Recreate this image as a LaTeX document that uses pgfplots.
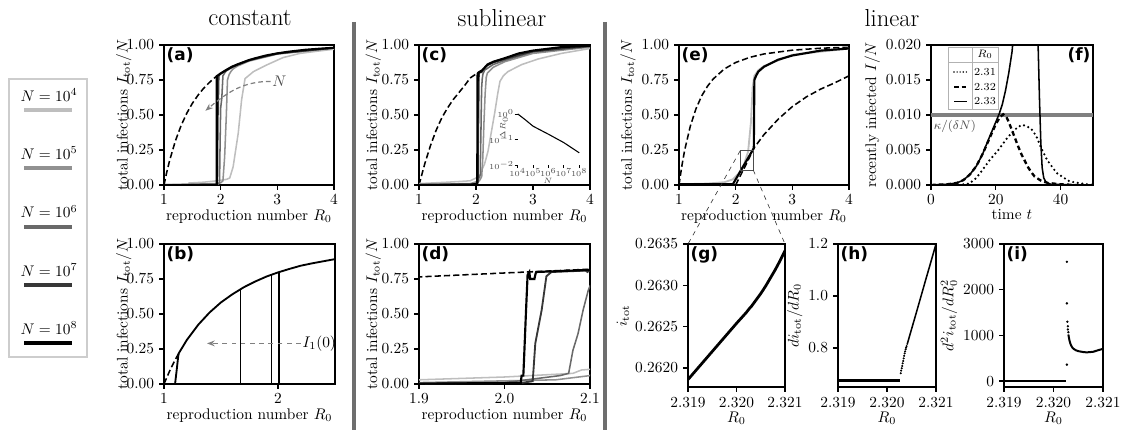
\documentclass[border=0pt]{standalone}
\usepackage{fontspec}
\usepackage{pgfplots}
\usepackage{pgfplotstable}
\pgfplotsset{compat=1.18}
\usetikzlibrary{arrows.meta}
\newfontfamily\plab{DejaVu Sans}

\definecolor{nfour}{RGB}{190,190,190}
\definecolor{nfive}{RGB}{145,145,145}
\definecolor{nsix}{RGB}{105,105,105}
\definecolor{nseven}{RGB}{55,55,55}
\definecolor{sepgray}{RGB}{110,110,110}
\definecolor{boxgray}{RGB}{205,205,205}

% sublinear runs, shared by (c) and (d)
\pgfplotstableread{
x y
1.0 0.01
1.5 0.02
1.9 0.03
2.0 0.05
2.08 0.076
2.09 0.10
2.1 0.105
2.15 0.15
2.21 0.24
2.27 0.38
2.33 0.52
2.38 0.65
2.42 0.74
2.48 0.78
2.56 0.81
2.8 0.86
3.09 0.90
3.5 0.94
4.0 0.975
}\cfour
\pgfplotstableread{
x y
1.0 0.005
1.9 0.01
2.06 0.03
2.1 0.06
2.12 0.2
2.14 0.45
2.16 0.65
2.18 0.77
2.2 0.8
2.3 0.84
2.5 0.88
3.0 0.94
4.0 0.985
}\cfive
\pgfplotstableread{
x y
1.0 0.002
1.9 0.005
2.0 0.01
2.065 0.06
2.075 0.076
2.08 0.24
2.086 0.36
2.092 0.53
2.098 0.67
2.1 0.70
2.11 0.76
2.12 0.79
2.15 0.82
2.3 0.86
2.5 0.89
3.0 0.95
4.0 0.99
}\csix
\pgfplotstableread{
x y
1.0 0.0
1.9 0.003
2.02 0.008
2.033 0.02
2.036 0.29
2.0435 0.53
2.049 0.77
2.055 0.80
2.095 0.81
2.097 0.80
2.1 0.815
2.2 0.855
2.3 0.875
2.5 0.90
3.0 0.955
4.0 0.993
}\cseven
\pgfplotstableread{
x y
1.0 0.0
1.9 0.002
2.019 0.008
2.02 0.06
2.022 0.06
2.023 0.2
2.025 0.5
2.027 0.78
2.029 0.80
2.030 0.75
2.035 0.75
2.036 0.78
2.037 0.80
2.1 0.815
2.2 0.86
2.3 0.88
2.5 0.905
2.75 0.94
3.0 0.96
3.5 0.985
4.0 0.995
}\ceight
\pgfplotstableread{
x y
1.0 0.0
1.1 0.15
1.2 0.28
1.3 0.39
1.4 0.48
1.5 0.55
1.6 0.61
1.7 0.66
1.8 0.71
1.9 0.765
2.0 0.793
2.1 0.82
}\cdash

\pgfplotsset{
  pos/.style 2 args={at={({#1*0.65pt},{-#2*0.65pt})}},
  panel/.style={
    scale only axis, anchor=south west,
    axis line style={line width=1.3pt},
    tick align=outside, tick pos=left,
    major tick length=3pt,
    tick style={black, line width=0.8pt},
    tick label style={font=\fontsize{10}{12}\selectfont},
    label style={font=\fontsize{10}{12}\selectfont},
    xlabel style={yshift=4pt},
    ylabel style={yshift=-3pt},
    scaled ticks=false,
    enlargelimits=false,
  },
  itot/.style={panel, xmin=1, xmax=4, ymin=0, ymax=1,
    xtick={1,2,3,4}, ytick={0,0.25,0.5,0.75,1},
    yticklabel style={/pgf/number format/.cd, fixed, fixed zerofill, precision=2},
    xlabel={reproduction number $R_0$},
    ylabel={total infections $I_{\mathrm{tot}}/N$}},
  % zoom panels (g)-(i): x is (R0 - 2.319)*1000, labelled in R0
  zoomx/.style={panel, xmin=0, xmax=2, xtick={0,1,2},
    xticklabels={2.319,2.320,2.321}, xlabel={$R_0$}},
  fs/.style={black, line width=1pt, dash pattern=on 4pt off 2pt},
}
\newcommand\plabel[1]{\node[anchor=north west, inner sep=1.5pt, font=\plab\bfseries\fontsize{11}{12}\selectfont] at (rel axis cs:0,1) {(#1)};}

\begin{document}
\begin{tikzpicture}[x=0.65pt, y=-0.65pt]
\useasboundingbox (0,0) rectangle (1125,430);

% titles and separators
\node[font=\fontsize{16}{19}\selectfont] at (250,18) {constant};
\node[font=\fontsize{16}{19}\selectfont] at (502,18) {sublinear};
\node[font=\fontsize{16}{19}\selectfont] at (892,18) {linear};
\draw[sepgray, line width=2.6pt] (354,22) -- (354,430);
\draw[sepgray, line width=2.6pt] (605,22) -- (605,430);

% legend
\draw[boxgray, line width=1.3pt] (9,79) rectangle (87,357);
\foreach \e/\c [count=\i from 0] in {4/nfour,5/nfive,6/nsix,7/nseven,8/black}{
  \node at (49,95+58.3*\i) {$N=10^{\e}$};
  \draw[\c, line width=2.6pt] (24,110+58.3*\i) -- (72,110+58.3*\i);
}

% (a)
\begin{axis}[itot, pos={164}{185}, width=110.5pt, height=91pt, ylabel style={yshift=-7pt}]
\addplot[fs] coordinates {(1,0) (1.05,0.094) (1.1,0.176) (1.2,0.314) (1.3,0.423) (1.4,0.511) (1.5,0.583) (1.6,0.641) (1.7,0.691) (1.8,0.732) (1.9,0.768) (1.93,0.777)};
\addplot[nfour, line width=1pt] coordinates {(1.43,0.014) (1.7,0.02) (1.93,0.03) (2.1,0.04) (2.16,0.05) (2.22,0.13) (2.31,0.37) (2.37,0.61) (2.43,0.76) (2.58,0.81) (2.81,0.857) (3.1,0.91) (3.4,0.94) (3.69,0.955) (4,0.97)};
\addplot[nfive, line width=1pt] coordinates {(1,0) (1.9,0.01) (2.0,0.015) (2.04,0.03) (2.07,0.2) (2.1,0.5) (2.12,0.75) (2.15,0.79) (2.18,0.81) (2.22,0.83) (2.3,0.85) (2.5,0.885) (3,0.935) (4,0.978)};
\addplot[nsix, line width=1pt] coordinates {(1,0) (1.96,0.005) (1.98,0.02) (1.99,0.3) (2.0,0.55) (2.02,0.62) (2.04,0.78) (2.07,0.8) (2.1,0.815) (2.2,0.84) (2.3,0.858) (2.5,0.89) (3,0.938) (4,0.979)};
\addplot[nseven, line width=1.2pt] coordinates {(1,0) (1.94,0) (1.945,0.3) (1.95,0.55) (1.955,0.5) (1.96,0.7) (1.965,0.78) (2.0,0.795) (2.1,0.82) (2.2,0.843) (2.5,0.892) (3,0.94) (4,0.98)};
\addplot[black, line width=1.4pt] coordinates {(1,0) (1.93,0) (1.93,0.777) (2.0,0.797) (2.1,0.822) (2.2,0.845) (2.3,0.862) (2.4,0.877) (2.5,0.892) (2.6,0.904) (2.8,0.925) (3.0,0.940) (3.2,0.952) (3.5,0.966) (3.8,0.975) (4.0,0.980)};
\draw[-{Stealth[length=5pt]}, densely dashed, gray, line width=0.8pt] (axis cs:2.88,0.74) to[out=180, in=40] (axis cs:1.73,0.53);
\node[anchor=west, inner sep=1pt, gray!60!black] at (axis cs:2.88,0.74) {$N$};
\plabel{a}
\end{axis}

% (b)
\begin{axis}[itot, pos={164}{384}, width=111.15pt, height=91pt, xmax=2.5, xtick={1,2}, ylabel style={yshift=-7pt}]
\addplot[fs] coordinates {(1,0) (1.05,0.094) (1.1,0.176) (1.13,0.22)};
\addplot[black, line width=1.2pt] coordinates {(1.097,0) (1.11,0.09) (1.125,0.2) (1.13,0.22) (1.2,0.314) (1.3,0.423) (1.4,0.511) (1.5,0.583) (1.6,0.641) (1.67,0.676) (1.7,0.691) (1.8,0.732) (1.9,0.768) (2.0,0.797) (2.1,0.822) (2.2,0.845) (2.3,0.862) (2.4,0.877) (2.5,0.892)};
\addplot[black, line width=0.9pt] coordinates {(1.671,0) (1.671,0.678)};
\addplot[black, line width=0.9pt] coordinates {(1.941,0) (1.941,0.779)};
\addplot[black, line width=0.9pt] coordinates {(2.009,0) (2.009,0.799)};
\draw[-{Stealth[length=5pt]}, dashed, gray, line width=0.8pt] (axis cs:2.2,0.29) -- (axis cs:1.377,0.29);
\node[anchor=west, inner sep=1pt] at (axis cs:2.2,0.29) {$I_1(0)$};
\plabel{b}
\end{axis}

% (c)
\begin{axis}[itot, pos={419}{185}, width=111.15pt, height=91pt, ylabel style={yshift=-3.5pt}]
\addplot[fs] table {\cdash};
\addplot[nfour, line width=1pt] table {\cfour};
\addplot[nfive, line width=1pt] table {\cfive};
\addplot[nsix, line width=1pt] table {\csix};
\addplot[nseven, line width=1.2pt] table {\cseven};
\addplot[black, line width=1.4pt] table {\ceight};
\plabel{c}
\end{axis}
% inset of (c)
\begin{axis}[scale only axis, anchor=south west, pos={517.7}{165}, width=40pt, height=33.2pt,
  xmode=log, ymode=log, xmin=1e4, xmax=1e8, ymin=1e-2, ymax=1,
  axis line style={draw=none}, tick align=outside, tick pos=left,
  major tick length=2pt, tick style={black, line width=0.5pt},
  xtick={1e4,1e5,1e6,1e7,1e8}, ytick={1e-2,1e-1,1},
  xminorticks=false, yminorticks=false,
  tick label style={font=\fontsize{5}{6}\selectfont, text=black!70, inner sep=0.3pt},
  clip=false]
\addplot[black, line width=0.7pt] coordinates {(1e4,1.0) (3e4,0.6) (1e5,0.33) (1e6,0.16) (1e7,0.075) (1e8,0.03)};
\end{axis}
\node[rotate=90, font=\fontsize{5}{6}\selectfont, text=black!70, inner sep=0pt] at (504,128) {$\Delta R_0$};
\node[font=\fontsize{5}{6}\selectfont, text=black!70, inner sep=0pt] at (548,181) {$N$};

% (d)
\begin{axis}[itot, pos={419}{384}, width=111.15pt, height=91pt, xmin=1.9, xmax=2.1, ylabel style={yshift=-3.5pt},
  xtick={1.9,2.0,2.1}, xticklabel style={/pgf/number format/.cd, fixed, fixed zerofill, precision=1}]
\addplot[fs] table {\cdash};
\addplot[nfour, line width=1pt] table {\cfour};
\addplot[nfive, line width=1pt] table {\cfive};
\addplot[nsix, line width=1pt] table {\csix};
\addplot[nseven, line width=1.2pt] table {\cseven};
\addplot[black, line width=1.4pt] table {\ceight};
\plabel{d}
\end{axis}

% (e)
\begin{axis}[itot, pos={679}{185}, width=110.5pt, height=91pt, ylabel style={yshift=0pt}]
\addplot[fs] coordinates {(1,0) (1.05,0.136) (1.1,0.249) (1.2,0.421) (1.3,0.545) (1.4,0.636) (1.5,0.704) (1.6,0.756) (1.8,0.829) (2,0.875) (2.25,0.912) (2.5,0.936) (3,0.963) (3.5,0.977) (4,0.984)};
\addplot[fs] coordinates {(2,0) (2.2,0.16) (2.32,0.263) (2.5,0.36) (2.75,0.47) (3,0.56) (3.25,0.63) (3.5,0.685) (3.75,0.73) (4,0.78)};
\addplot[nfour, line width=1.2pt] coordinates {(1,0.005) (1.5,0.01) (1.8,0.02) (1.95,0.04) (2.05,0.08) (2.15,0.15) (2.22,0.24) (2.27,0.45) (2.3,0.7) (2.33,0.78) (2.4,0.82) (2.5,0.85) (3,0.93) (4,0.975)};
\addplot[black, line width=1.4pt] coordinates {(1,0.005) (1.95,0.005) (2.32,0.263) (2.325,0.5) (2.33,0.75) (2.36,0.78) (2.4,0.81) (2.5,0.845) (2.75,0.895) (3,0.925) (3.5,0.96) (4,0.975)};
\draw[black!70, line width=0.5pt] (axis cs:2.08,0.107) rectangle (axis cs:2.31,0.245);
\coordinate (rtl) at (axis cs:2.08,0.245);
\coordinate (rbr) at (axis cs:2.31,0.107);
\plabel{e}
\end{axis}

% (f)
\begin{axis}[panel, pos={931}{185}, width=105.3pt, height=91pt,
  xmin=0, xmax=50, ymin=0, ymax=0.02, xtick={0,20,40},
  ytick={0,0.005,0.01,0.015,0.02},
  yticklabel style={/pgf/number format/.cd, fixed, fixed zerofill, precision=3},
  xlabel={time $t$}, ylabel={recently infected $I/N$}]
\addplot[gray, line width=2pt] coordinates {(0,0.01) (50,0.01)};
\addplot[black, line width=1.6pt, dash pattern=on 0pt off 3pt, line cap=round] coordinates {(0,0.0) (8,0.0) (11.8,0.0002) (14,0.001) (15.8,0.0021) (18,0.0035) (20.8,0.005) (23.8,0.0069) (26.8,0.0083) (28.3,0.0086) (30.8,0.0081) (32.5,0.007) (33.8,0.0055) (35.8,0.0036) (38.8,0.0017) (42.8,0.0005) (46.8,0.0002) (50,0.0)};
\addplot[black, line width=1.5pt, dash pattern=on 3pt off 2pt] coordinates {(0,0.0) (5,0.0001) (8,0.0003) (10,0.0007) (12,0.0015) (14,0.0027) (16,0.0045) (18,0.0066) (20,0.0087) (21.3,0.0097) (22.3,0.0101) (23.3,0.0097) (24,0.009) (25,0.0078) (26,0.0066) (27,0.0054) (28,0.0043) (29,0.0034) (30,0.0025) (31,0.0018) (32,0.0012) (34,0.0006) (36,0.0003) (40,0.0001) (45,0.0)};
\addplot[black, line width=1pt] coordinates {(0,0.0) (5,0.0001) (8,0.0003) (10,0.0007) (12,0.0015) (14,0.0027) (16,0.0045) (18,0.0068) (20,0.009) (21,0.0101) (22,0.0115) (23,0.0135) (24,0.016) (25,0.019) (25.4,0.021)};
\addplot[black, line width=1pt] coordinates {(33.0,0.021) (33.5,0.012) (33.9,0.006) (34.3,0.0025) (34.8,0.001) (35.5,0.0004) (37,0.0001) (45,0.0)};
\node[anchor=west, inner sep=1pt, font=\fontsize{8}{9}\selectfont, black!70] at (axis cs:0.3,0.0083) {$\kappa/(\delta N)$};
\node[anchor=north east, inner sep=1.5pt, font=\plab\bfseries\fontsize{11}{12}\selectfont] at (rel axis cs:1,1) {(f)};
\end{axis}
% table legend of (f)
\begin{scope}[font=\fontsize{7}{8}\selectfont]
\fill[white] (948,47) rectangle (998,109);
\draw[black!30, line width=0.5pt] (948,47) rectangle (998,109);
\draw[black!30, line width=0.5pt] (972,47) -- (972,109);
\draw[black!30, line width=0.5pt] (948,62) -- (998,62);
\node at (985,54.5) {$R_0$};
\draw[black, line width=1pt, dash pattern=on 0pt off 2pt, line cap=round] (954,72) -- (967,72);
\draw[black, line width=1pt, dash pattern=on 3pt off 2pt] (954,87) -- (967,87);
\draw[black, line width=1pt] (954,101.5) -- (967,101.5);
\node at (985,72) {2.31};
\node at (985,87) {2.32};
\node at (985,101.5) {2.33};
\end{scope}

% (g): y is (i_tot - 0.26)*10^4, labelled in i_tot
\begin{axis}[zoomx, pos={688}{387}, width=63.05pt, height=92.95pt,
  ymin=17.7, ymax=35, ytick={20,25,30,35},
  yticklabels={0.2620,0.2625,0.2630,0.2635},
  ylabel={$i_{\mathrm{tot}}$}]
\addplot[black, line width=1.8pt] coordinates {(0,18.6) (0.5,22.0) (1.0,25.4) (1.2,26.7) (1.28,27.3) (1.3,27.4) (1.4,28.2) (1.5,29.0) (1.6,29.9) (1.7,30.9) (1.8,31.9) (1.9,33.0) (2.0,34.2)};
\coordinate (gtl) at (rel axis cs:0,1);
\coordinate (gtr) at (rel axis cs:1,1);
\plabel{g}
\end{axis}
\draw[dashed, black!80, line width=0.4pt] (rtl) -- (gtl);
\draw[dashed, black!80, line width=0.4pt] (rbr) -- (gtr);

% (h)
\begin{axis}[zoomx, pos={838}{387}, width=63.7pt, height=92.95pt,
  ymin=0.65, ymax=1.2, ytick={0.8,1.0,1.2},
  yticklabel style={/pgf/number format/.cd, fixed, fixed zerofill, precision=1},
  ylabel={$di_{\mathrm{tot}}/dR_0$}]
\addplot[black, line width=1.8pt] coordinates {(0,0.675) (1.26,0.675)};
\addplot[black, only marks, mark=*, mark size=0.45pt] coordinates {(1.28,0.703) (1.29,0.713) (1.30,0.722) (1.31,0.731) (1.32,0.741) (1.33,0.75) (1.34,0.76) (1.35,0.77) (1.36,0.779) (1.37,0.787) (1.38,0.795) (1.39,0.801) (1.40,0.807)};
\addplot[black, line width=1pt] coordinates {(1.41,0.813) (1.5,0.872) (1.6,0.937) (1.7,1.003) (1.8,1.069) (1.9,1.134) (2.0,1.2)};
\plabel{h}
\end{axis}

% (i)
\begin{axis}[zoomx, pos={1004}{387}, width=64.35pt, height=92.95pt,
  ymin=-130, ymax=3000, ytick={0,1000,2000,3000},
  yticklabel style={/pgf/number format/.cd, 1000 sep={}},
  ylabel={$d^2 i_{\mathrm{tot}}/dR_0^2$}]
\addplot[black, line width=1.8pt] coordinates {(0,0) (1.26,0)};
\addplot[black, only marks, mark=*, mark size=0.55pt] coordinates {(1.27,2610) (1.27,1700) (1.28,1300) (1.27,360) (1.29,1200) (1.29,1130) (1.30,1070)};
\addplot[black, line width=1.3pt] coordinates {(1.30,1020) (1.32,900) (1.34,820) (1.36,770) (1.38,735) (1.40,710) (1.45,675) (1.5,655) (1.6,635) (1.67,628) (1.8,640) (1.9,675) (2.0,705)};
\plabel{i}
\end{axis}
\end{tikzpicture}
\end{document}
